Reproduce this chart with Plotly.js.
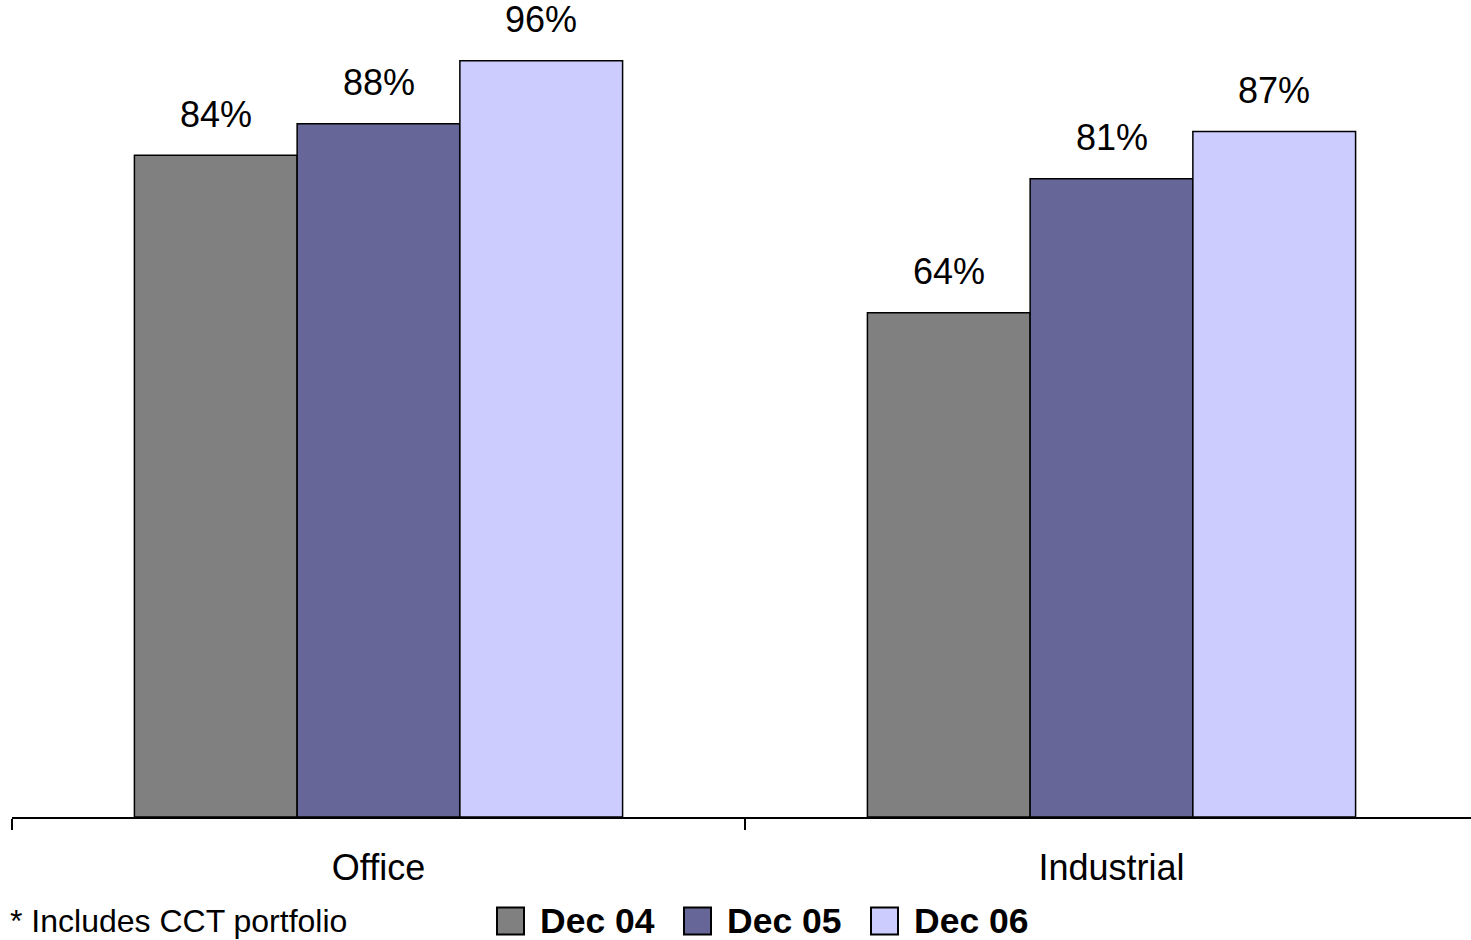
<!DOCTYPE html>
<html>
<head>
<meta charset="utf-8">
<script src="https://cdn.plot.ly/plotly-3.0.1.min.js"></script>
<style>
html,body{margin:0;padding:0;overflow:hidden;background:#fff;}
#chart{width:1490px;height:940px;}
</style>
</head>
<body>
<div id="chart"></div>
<script>
// ---- data ----
const categories = ["Office", "Industrial"];
const seriesNames = ["Dec 04", "Dec 05", "Dec 06"];
const dec04 = [84, 64];
const dec05 = [88, 81];
const dec06 = [96, 87];
const footnote = "* Includes CCT portfolio";

// ---- style ----
const colors = ["#808080", "#666699", "#CCCCFF"];
const FONT = "Arial, 'Liberation Sans', sans-serif";
const W = 1490, H = 940;
const M = {l: 12, r: 12, t: 0, b: 123};
const plotW = W - M.l - M.r, plotH = H - M.t - M.b;
const BARGAP = 0.334;
const catPx = plotW / categories.length;
const barPx = catPx * (1 - BARGAP) / seriesNames.length;

const seriesVals = [dec04, dec05, dec06];
const traces = seriesVals.map((vals, i) => ({
  type: "bar",
  name: seriesNames[i],
  x: categories,
  y: vals,
  marker: {color: colors[i], line: {color: "#000", width: 1.5}},
  hoverinfo: "skip",
  showlegend: false
}));

const annotations = [];
seriesVals.forEach((vals, i) => {
  vals.forEach((v, j) => {
    annotations.push({
      x: categories[j], y: v, xref: "x", yref: "y",
      text: v + "%", showarrow: false,
      xanchor: "center", yanchor: "middle",
      xshift: (i - (seriesNames.length - 1) / 2) * barPx,
      yshift: 41,
      font: {family: FONT, size: 36, color: "#000"}
    });
  });
});

// pixel -> paper helpers
const px = x => (x - M.l) / plotW;
const py = y => (H - M.b - y) / plotH;

// footnote
annotations.push({
  x: px(8), y: py(921), xref: "paper", yref: "paper",
  text: footnote, showarrow: false, xanchor: "left", yanchor: "middle",
  font: {family: FONT, size: 32, color: "#000"}
});

// manual legend
const shapes = [];
const legStart = 497, legStep = 187, sq = 27, legY = 921;
seriesNames.forEach((n, i) => {
  const x0 = legStart + i * legStep;
  shapes.push({
    type: "rect", xref: "paper", yref: "paper",
    x0: px(x0), x1: px(x0 + sq), y0: py(legY - sq / 2), y1: py(legY + sq / 2),
    fillcolor: colors[i], line: {color: "#000", width: 2}
  });
  annotations.push({
    x: px(x0 + sq + 14), y: py(legY), xref: "paper", yref: "paper",
    text: "<b>" + n + "</b>", showarrow: false, xanchor: "left", yanchor: "middle",
    font: {family: FONT, size: 35.5, color: "#000"}
  });
});

const layout = {
  width: W, height: H,
  margin: M,
  paper_bgcolor: "#fff", plot_bgcolor: "#fff",
  barmode: "group", bargap: BARGAP, bargroupgap: 0,
  showlegend: false,
  xaxis: {
    type: "category", range: [-0.5, 1.5],
    showline: true, linecolor: "#000", linewidth: 2,
    ticks: "outside", tickson: "boundaries", ticklen: 11, tickwidth: 1.5, tickcolor: "#000",
    ticklabelstandoff: 18,
    tickfont: {family: FONT, size: 36, color: "#000"},
    showgrid: false, zeroline: false, fixedrange: true
  },
  yaxis: {
    range: [0, 103.7], visible: false, showgrid: false, zeroline: false, fixedrange: true
  },
  annotations: annotations,
  shapes: shapes,
  font: {family: FONT}
};

Plotly.newPlot("chart", traces, layout, {displayModeBar: false, staticPlot: true});
</script>
</body>
</html>
